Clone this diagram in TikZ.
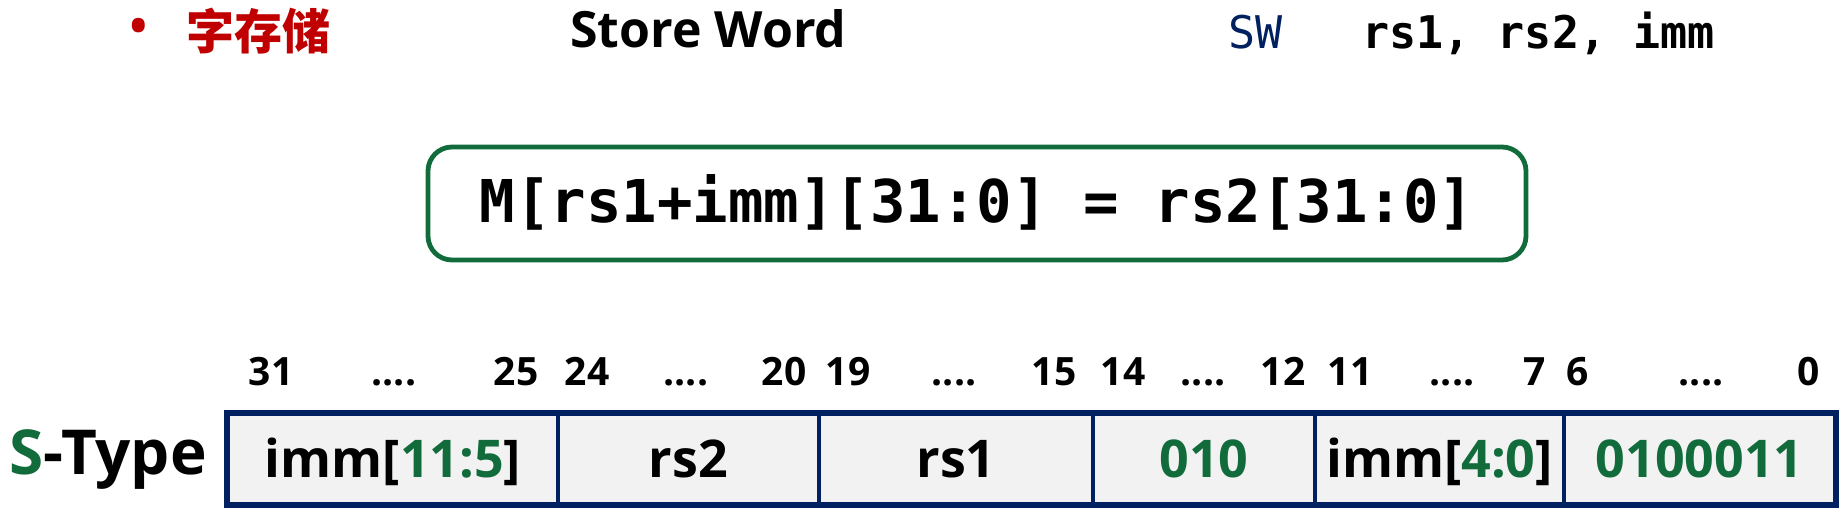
\documentclass[tikz,border=0pt]{standalone}
\usepackage{fontspec}
\setmainfont{Open Sans}
\newfontfamily\cjk{Noto Sans CJK SC}
\newfontfamily\mono{DejaVu Sans Mono}
\definecolor{myred}{HTML}{C00000}
\definecolor{mygreen}{HTML}{116B3B}
\definecolor{mynavy}{HTML}{002060}
\definecolor{cellfill}{HTML}{F2F2F2}
\begin{document}
\begin{tikzpicture}[x=0.5pt,y=-0.5pt,
  num/.style={font=\fontsize{19.5}{20}\selectfont\bfseries, anchor=base, inner sep=0},
  cell/.style={draw=mynavy, fill=cellfill, line width=1.75pt, minimum height=45pt, inner sep=0,
    text height=22pt, text depth=4pt, font=\fontsize{26}{28}\selectfont\bfseries},
  lbl/.style={anchor=base west, inner sep=0},
]
\useasboundingbox (0,0) rectangle (1840,514);

% title row
\node[text=myred, inner sep=0, font=\fontsize{30}{32}\selectfont] (bul) at (139,33) {•};
\node[lbl, text=myred, font=\cjk\fontsize{24}{26}\selectfont\bfseries] (cn) at (186,49) {字存储};
\node[lbl, font=\fontsize{25}{27}\selectfont\bfseries] (en) at (570,47) {Store Word};
\node[lbl, text=mynavy, font=\mono\fontsize{22.5}{24}\selectfont] (op) at (1228,48) {SW};
\node[lbl, font=\mono\fontsize{22.5}{24}\selectfont\bfseries] (args) at (1362,48) {rs1, rs2, imm};

% equation
\node[draw=mygreen, line width=2.4pt, rounded corners=12pt, minimum width=549pt, minimum height=56.5pt,
  inner sep=0, text height=24pt, text depth=5.5pt, font=\mono\fontsize{29.5}{31}\selectfont\bfseries]
  (eq) at (977,203.5) {M[rs1+imm][31:0] = rs2[31:0]};

% bit numbers
\node[num] (n31) at (271,385) {31};
\node[num] (d1) at (394,385) {....};
\node[num] (n25) at (516,385) {25};
\node[num] (n24) at (587,385) {24};
\node[num] (d2) at (686,385) {....};
\node[num] (n20) at (784,385) {20};
\node[num] (n19) at (848,385) {19};
\node[num] (d3) at (954,385) {....};
\node[num] (n15) at (1054,385) {15};
\node[num] (n14) at (1123,385) {14};
\node[num] (d4) at (1203,385) {....};
\node[num] (n12) at (1283,385) {12};
\node[num] (n11) at (1350,385) {11};
\node[num] (d5) at (1452,385) {....};
\node[num] (n7) at (1535,385) {7};
\node[num] (n6) at (1578,385) {6};
\node[num] (d6) at (1701,385) {....};
\node[num] (n0) at (1809,385) {0};

% type label
\node[lbl, font=\fontsize{31}{33}\selectfont\bfseries] (type) at (9,474) {\textcolor{mygreen}{S}-Type};

% fields
\node[cell, minimum width=165pt] (c1) at (393,459) {imm[\textcolor{mygreen}{11:5}]};
\node[cell, minimum width=130.5pt] (c2) at (688.5,459) {rs2};
\node[cell, minimum width=137pt] (c3) at (956,459) {rs1};
\node[cell, minimum width=111pt, text=mygreen] (c4) at (1204,459) {010};
\node[cell, minimum width=124.5pt] (c5) at (1439.5,459) {imm[\textcolor{mygreen}{4:0}]};
\node[cell, minimum width=135.5pt, text=mygreen] (c6) at (1699.5,459) {0100011};
\draw[mynavy, line width=2.3pt] (c1.north west) rectangle (c6.south east);
\end{tikzpicture}
\end{document}
